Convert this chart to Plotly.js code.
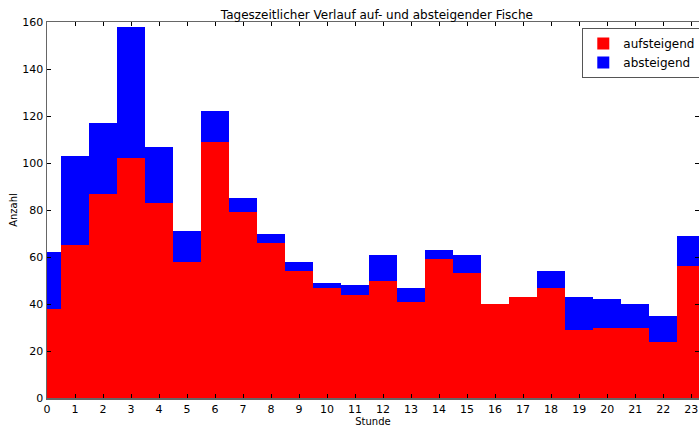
<!DOCTYPE html>
<html>
<head>
<meta charset="utf-8">
<script src="https://cdn.plot.ly/plotly-3.0.1.min.js"></script>
<style>html,body{margin:0;padding:0;background:#fff;}#chart{width:699px;height:430px;}</style>
</head>
<body>
<div id="chart"></div>
<script>
const hours = [0,1,2,3,4,5,6,7,8,9,10,11,12,13,14,15,16,17,18,19,20,21,22,23];
const aufsteigend = [38,65,87,102,83,58,109,79,66,54,47,44,50,41,59,53,40,43,47,29,30,30,24,56];
const absteigend  = [24,38,30,56,24,13,13,6,4,4,2,4,11,6,4,8,0,0,7,14,12,10,11,13];
const xTicks = [0,1,2,3,4,5,6,7,8,9,10,11,12,13,14,15,16,17,18,19,20,21,22,23];
const yTicks = [0,20,40,60,80,100,120,140,160];

const font = {family: 'DejaVu Sans, sans-serif', color: '#000'};

const traces = [
  {type: 'bar', x: hours, y: aufsteigend, name: 'aufsteigend', width: 1,
   marker: {color: '#ff0000', line: {width: 0}}},
  {type: 'bar', x: hours, y: absteigend, name: 'absteigend', width: 1,
   marker: {color: '#0000ff', line: {width: 0}}}
];

const layout = {
  width: 699, height: 430,
  margin: {l: 47, r: 0, t: 22, b: 32, autoexpand: false},
  paper_bgcolor: '#fff', plot_bgcolor: '#fff',
  barmode: 'stack', bargap: 0,
  font: Object.assign({size: 11}, font),
  title: {text: 'Tageszeitlicher Verlauf auf- und absteigender Fische',
          font: Object.assign({size: 12}, font),
          x: 0.506, xref: 'paper', xanchor: 'center', y: 0.965, yref: 'container', yanchor: 'middle'},
  xaxis: {range: [0, 23.28], tickvals: xTicks, ticktext: xTicks.map(String),
          ticks: 'inside', ticklen: 4, tickcolor: '#000', tickwidth: 1,
          showline: true, linecolor: '#666', linewidth: 1.5, mirror: 'allticks',
          showgrid: false, zeroline: false,
          tickfont: Object.assign({size: 11}, font),
          title: {text: 'Stunde', font: Object.assign({size: 10}, font), standoff: 3}},
  yaxis: {range: [0, 160], tickvals: yTicks, ticktext: yTicks.map(String),
          ticks: 'inside', ticklen: 4, tickcolor: '#000', tickwidth: 1,
          showline: true, linecolor: '#666', linewidth: 1.5, mirror: 'allticks',
          showgrid: false, zeroline: false,
          tickfont: Object.assign({size: 11}, font),
          title: {text: 'Anzahl', font: Object.assign({size: 10}, font), standoff: 3}},
  legend: {x: 0.821, xanchor: 'left', y: 0.984, yanchor: 'top',
           bgcolor: '#fff', bordercolor: '#555', borderwidth: 1,
           font: Object.assign({size: 12}, font), traceorder: 'normal'},
  showlegend: true
};

Plotly.newPlot('chart', traces, layout, {displayModeBar: false, staticPlot: true});
</script>
</body>
</html>
